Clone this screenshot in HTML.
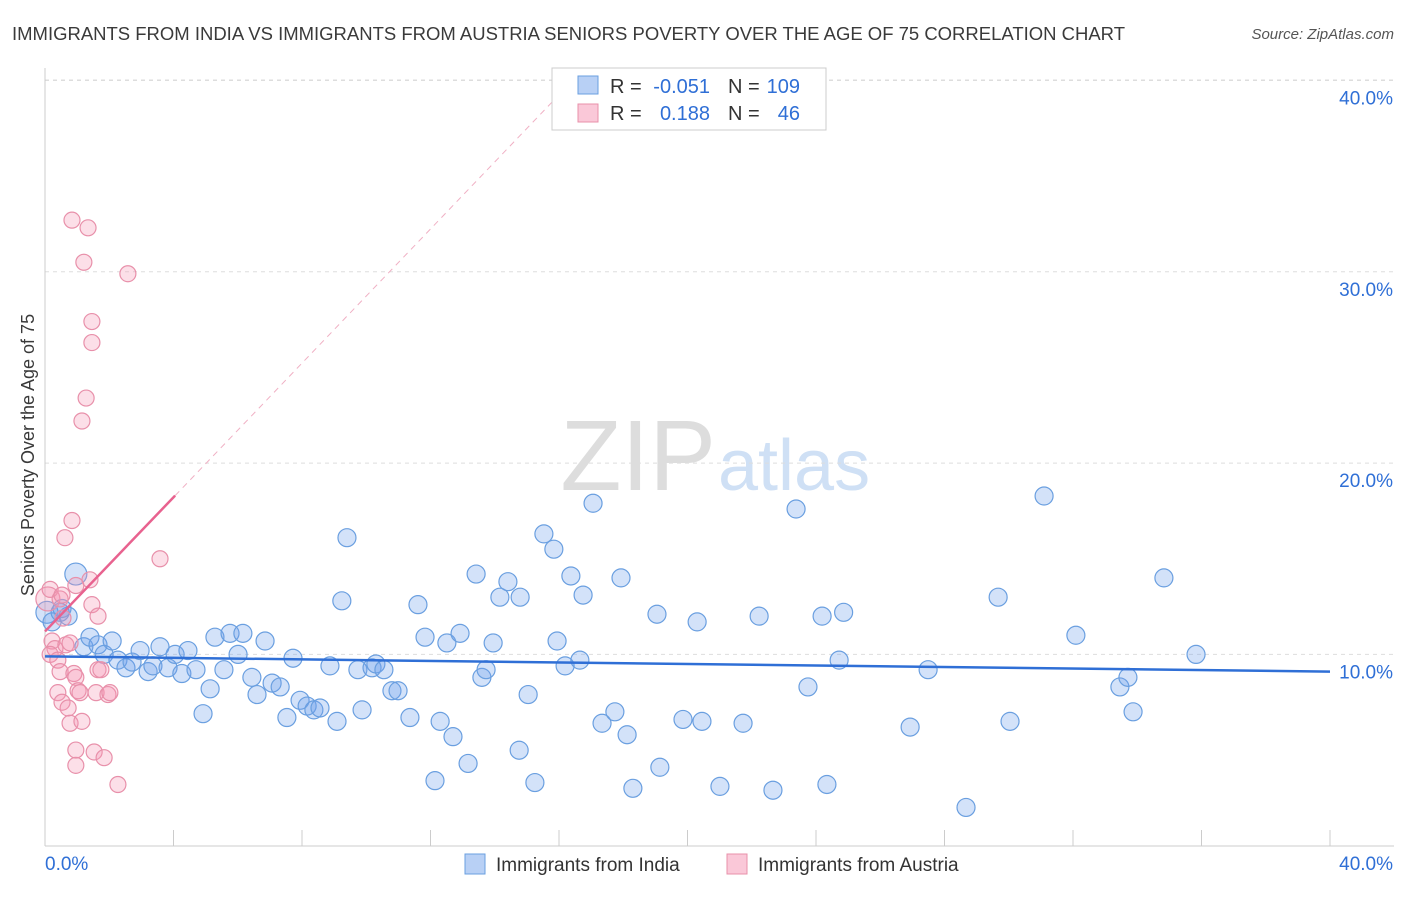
<!DOCTYPE html>
<html><head><meta charset="utf-8"><style>
body{margin:0;background:#fff;font-family:"Liberation Sans",sans-serif;}
svg text{font-family:"Liberation Sans",sans-serif;}
</style></head><body>
<svg id="c" width="1406" height="892" xmlns="http://www.w3.org/2000/svg">
<text x="12" y="40" font-size="18" fill="#3a3a3a" textLength="1113" lengthAdjust="spacingAndGlyphs">IMMIGRANTS FROM INDIA VS IMMIGRANTS FROM AUSTRIA SENIORS POVERTY OVER THE AGE OF 75 CORRELATION CHART</text>
<text x="1394" y="39" font-size="15" fill="#555" font-style="italic" text-anchor="end">Source: ZipAtlas.com</text>
<text x="716" y="490" font-size="100" fill="#ddd" text-anchor="end" font-family="Liberation Serif">ZIP</text>
<text x="718" y="490" font-size="72" fill="#cfe0f5">atlas</text>
<text transform="translate(34,455) rotate(-90)" font-size="18" fill="#3a3a3a" text-anchor="middle">Seniors Poverty Over the Age of 75</text>
<g id="grid"></g><g id="marks"></g>
<g>
<rect x="552" y="68" width="274" height="62" fill="#fff" stroke="#ccc"/>
<rect x="578" y="76" width="20" height="18" fill="#b8d0f5" stroke="#6a9fe0"/>
<rect x="578" y="104" width="20" height="18" fill="#fac8d8" stroke="#e890aa"/>
<text x="610" y="93" font-size="20" fill="#333">R =</text>
<text x="710" y="93" font-size="20" fill="#2f6fd6" text-anchor="end">-0.051</text>
<text x="728" y="93" font-size="20" fill="#333">N =</text>
<text x="800" y="93" font-size="20" fill="#2f6fd6" text-anchor="end">109</text>
<text x="610" y="120" font-size="20" fill="#333">R =</text>
<text x="710" y="120" font-size="20" fill="#2f6fd6" text-anchor="end">0.188</text>
<text x="728" y="120" font-size="20" fill="#333">N =</text>
<text x="800" y="120" font-size="20" fill="#2f6fd6" text-anchor="end">46</text>
</g>
<g>
<rect x="465" y="854" width="20" height="20" fill="#b8d0f5" stroke="#6a9fe0"/>
<text x="496" y="871" font-size="19" fill="#333">Immigrants from India</text>
<rect x="727" y="854" width="20" height="20" fill="#fac8d8" stroke="#e890aa"/>
<text x="758" y="871" font-size="19" fill="#333">Immigrants from Austria</text>
</g>
</svg>
<script>
const yTicks=[10,20,30,40];
const xTickLabels=["0.0%","40.0%"];
const indiaX=[0.06,0.22,0.47,0.72,0.96,0.53,1.21,1.40,1.65,1.84,2.09,2.27,2.52,2.71,2.96,3.21,3.36,3.58,3.83,4.05,4.26,4.45,4.70,4.92,5.14,5.29,5.57,5.76,6.01,6.16,6.44,6.60,6.85,7.07,7.32,7.53,7.72,7.94,8.16,8.37,8.56,8.87,9.09,9.24,9.40,9.74,9.87,10.18,10.30,10.55,10.80,10.99,11.36,11.61,11.83,12.14,12.30,12.51,12.70,12.92,13.17,13.42,13.60,13.73,13.95,14.16,14.41,14.79,14.76,15.04,15.25,15.53,15.84,15.94,16.19,16.37,16.65,16.75,17.06,17.34,17.74,17.93,18.12,18.30,19.05,19.14,19.86,20.30,20.45,21.01,21.73,22.23,22.66,23.38,23.75,24.19,24.34,24.72,24.86,26.93,27.49,28.67,29.67,30.04,31.10,32.09,33.46,33.71,33.87,34.83,35.83];
const indiaY=[12.2,11.7,12.2,12.0,14.2,12.4,10.4,10.9,10.5,10.0,10.7,9.7,9.3,9.6,10.2,9.1,9.4,10.4,9.3,10.0,9.0,10.2,9.2,6.9,8.2,10.9,9.2,11.1,10.0,11.1,8.8,7.9,10.7,8.5,8.3,6.7,9.8,7.6,7.3,7.1,7.2,9.4,6.5,12.8,16.1,9.2,7.1,9.3,9.5,9.2,8.1,8.1,6.7,12.6,10.9,3.4,6.5,10.6,5.7,11.1,4.3,14.2,8.8,9.2,10.6,12.99,13.8,12.99,4.99,7.9,3.3,16.3,15.5,10.7,9.4,14.1,9.7,13.1,17.9,6.4,7.0,14.0,5.8,3.0,12.1,4.1,6.6,11.7,6.5,3.1,6.4,12.0,2.9,17.6,8.3,12.0,3.2,9.7,12.2,6.2,9.2,2.0,12.99,6.5,18.28,11.0,8.3,8.8,7.0,14.0,10.0];
const austriaX=[0.09,0.16,0.22,0.31,0.16,0.40,0.47,0.53,0.56,0.65,0.47,0.40,0.53,0.72,0.78,0.84,0.84,0.62,0.96,0.78,0.90,0.96,1.03,1.09,1.15,1.15,1.28,1.21,1.34,1.40,1.46,1.46,1.46,1.59,1.53,1.65,1.74,1.84,0.96,0.96,1.96,2.02,2.27,1.65,2.58,3.58];
const austriaY=[12.9,13.4,10.7,10.3,10.0,9.7,12.9,13.1,11.9,10.5,9.1,8.0,7.5,7.2,6.4,32.7,17.0,16.1,13.6,10.6,9.0,8.8,8.1,8.0,6.5,22.2,23.4,30.5,32.3,13.9,12.6,27.4,26.3,8.0,4.9,9.2,9.2,4.6,4.2,5.0,7.9,8.0,3.2,12.0,29.9,15.0];
const indiaFit=[9.9,9.1];
const austriaFit=[0,11.2,4.05,18.3];
const X0=45,X1=1330,Y0=845.7,YS=19.13;
const sx=v=>X0+(v/40)*(X1-X0), sy=v=>Y0-v*YS;
const NS="http://www.w3.org/2000/svg";
function mk(t,a,p){const e=document.createElementNS(NS,t);for(const k in a)e.setAttribute(k,a[k]);p.appendChild(e);return e;}
const g=document.getElementById('grid'),m=document.getElementById('marks');
yTicks.forEach(t=>{
 const l=mk('line',{x1:X0,x2:1394,y1:sy(t),y2:sy(t),stroke:'#ddd','stroke-dasharray':'4,4'},g);
 
 
 const tx=mk('text',{x:1393,y:sy(t)+24,'font-size':19,fill:'#2f6fd6','text-anchor':'end'},g);tx.textContent=t.toFixed(1)+'%';
 
 
});
mk('line',{x1:X0,x2:1394,y1:80,y2:80,stroke:'#ddd','stroke-dasharray':'4,4'},g);
mk('line',{x1:X0,x2:X0,y1:68,y2:846,stroke:'#ccc'},g);
mk('line',{x1:X0,x2:1394,y1:846,y2:846,stroke:'#ccc'},g);
for(let i=0;i<=10;i++){const t=mk('line',{x1:sx(i*4),x2:sx(i*4),y1:830,y2:846,stroke:'#ccc'},g);
 
 }
[[0,45,'start'],[1,1393,'end']].forEach(([i,x,a])=>{const t=mk('text',{x:x,y:870,'font-size':19,fill:'#2f6fd6','text-anchor':a},g);t.textContent=xTickLabels[i];
 
 });
indiaX.forEach((v,i)=>{const c=mk('circle',{cx:sx(v),cy:sy(indiaY[i]),r:(i==0||i==4)?11:9,fill:'rgba(110,160,235,0.3)',stroke:'#6a9fe0','stroke-width':1.2},m);
 
 });
austriaX.forEach((v,i)=>{const c=mk('circle',{cx:sx(v),cy:sy(austriaY[i]),r:i==0?12:8,fill:'rgba(245,150,180,0.3)',stroke:'#e890aa','stroke-width':1.2},m);
 
 });
const slope=(austriaFit[3]-austriaFit[1])/(austriaFit[2]-austriaFit[0]);
const xe=(40.3-austriaFit[1])/slope;
const d=mk('line',{x1:sx(austriaFit[2]),y1:sy(austriaFit[3]),x2:sx(xe),y2:sy(40.3),stroke:'#f0b0c4','stroke-dasharray':'6,5'},m);


const pl=mk('line',{x1:sx(austriaFit[0]),y1:sy(austriaFit[1]),x2:sx(austriaFit[2]),y2:sy(austriaFit[3]),stroke:'#e8628f','stroke-width':2.5},m);


const bl=mk('line',{x1:sx(0),y1:sy(indiaFit[0]),x2:sx(40),y2:sy(indiaFit[1]),stroke:'#2f6fd6','stroke-width':2.5},m);


</script>
</body></html>
